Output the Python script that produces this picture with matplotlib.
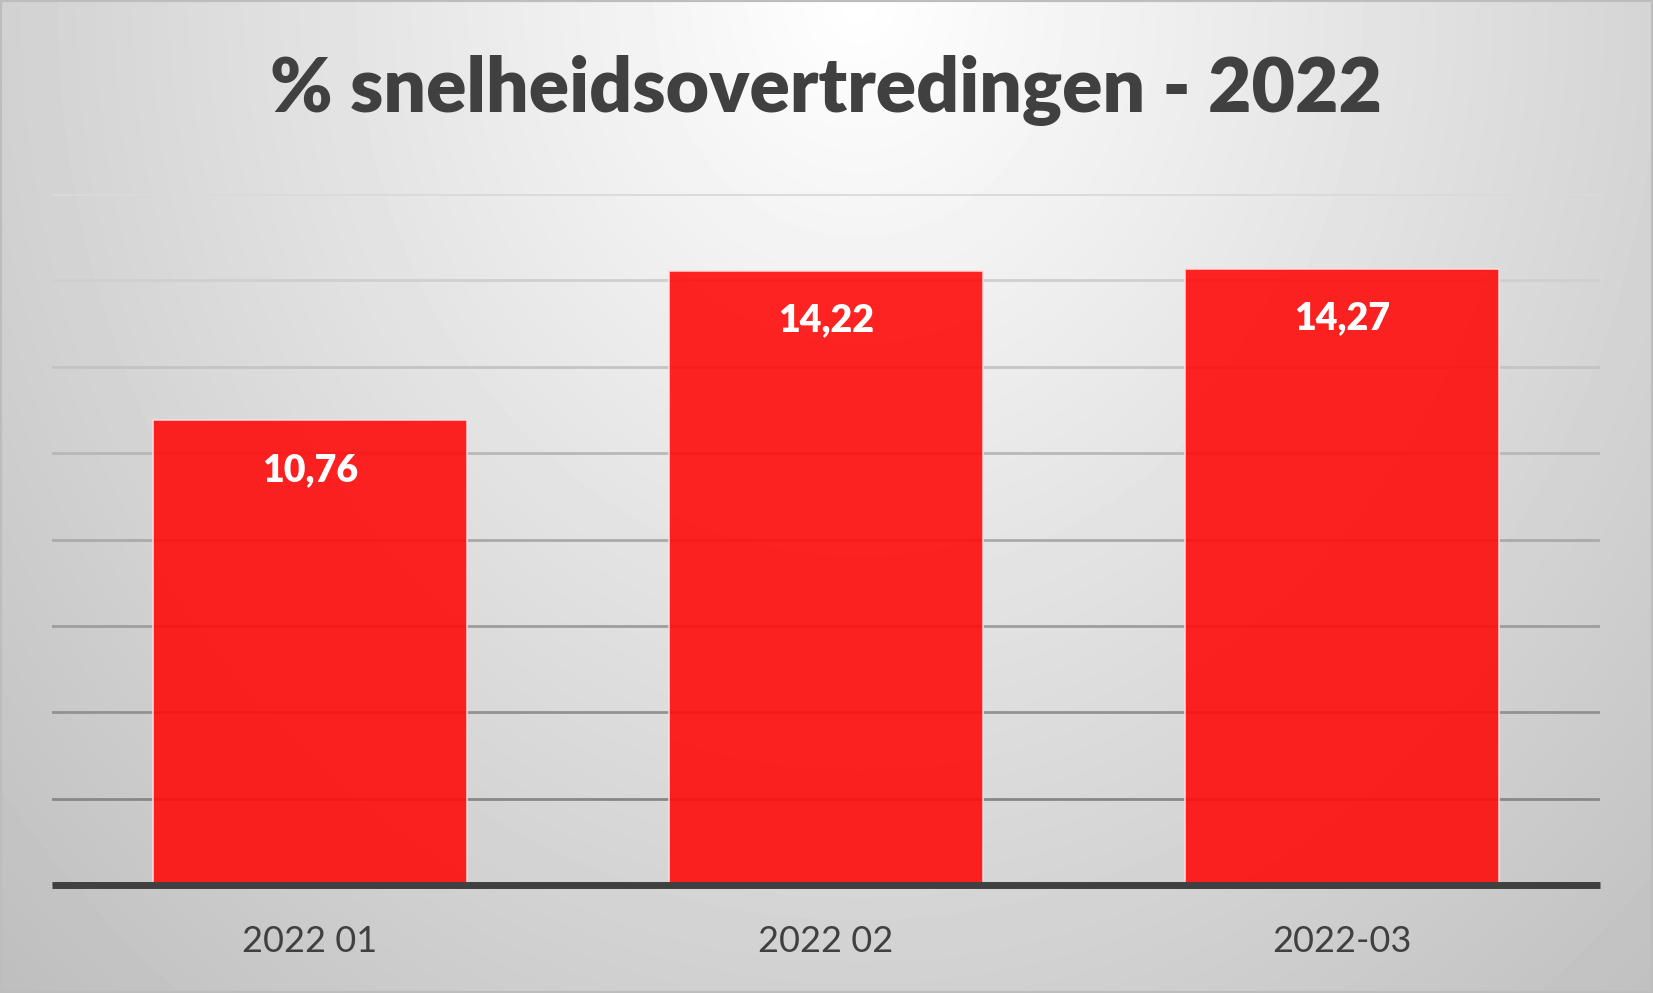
import numpy as np
import matplotlib.pyplot as plt

# Data
maanden = ['2022 01', '2022 02', '2022-03']
percentages = [10.76, 14.22, 14.27]
labels = ['10,76', '14,22', '14,27']
y_ticks = [0, 2, 4, 6, 8, 10, 12, 14, 16]

plt.rcParams['font.family'] = ['Lato', 'DejaVu Sans']

fig = plt.figure(figsize=(16.53, 9.93), dpi=100)

# Achtergrond met radiale verloop
bg = fig.add_axes([0, 0, 1, 1], zorder=-10)
xx, yy = np.meshgrid(np.linspace(0, 1, 400), np.linspace(0, 1, 240))
d = np.sqrt(((xx - 0.52) / 0.55) ** 2 + ((yy - 0.0) / 1.05) ** 2)
grijs = np.clip(1.0 - 0.19 * d, 0.74, 1.0)
bg.imshow(grijs, cmap='gray', vmin=0, vmax=1, aspect='auto',
          extent=[0, 1, 1, 0], interpolation='bilinear')
bg.set_xlim(0, 1)
bg.set_ylim(1, 0)
bg.axis('off')
fig.patches.append(plt.Rectangle((0, 0), 1, 1, transform=fig.transFigure,
                                 fill=False, edgecolor='#bdbdbd', linewidth=3))

ax = fig.add_axes([52 / 1653, (993 - 885) / 993, 1548 / 1653, (885 - 194) / 993])
ax.patch.set_alpha(0)

x = np.arange(len(maanden))
bars = ax.bar(x, percentages, width=0.607, color='#ff0c0c', alpha=0.9,
              edgecolor='#ffdede', linewidth=1.2, zorder=3)

for xi, val, lab in zip(x, percentages, labels):
    ax.text(xi, val - 1.15, lab, ha='center', va='center', color='white',
            fontsize=27, fontweight='heavy', zorder=4)

ax.set_xlim(-0.5, 2.5)
ax.set_ylim(0, 16)
ax.set_yticks(y_ticks)
ax.set_yticklabels([])
ax.tick_params(axis='y', length=0)
ax.set_xticks(x)
ax.set_xticklabels(maanden, fontsize=26, color='#404040')
ax.tick_params(axis='x', length=0, pad=29)

ax.yaxis.grid(True, linewidth=2, zorder=1)
ax.set_axisbelow(True)
grid_kleuren = ['#7f7f7f', '#888888', '#929292', '#9e9e9e', '#aaaaaa',
                '#b8b8b8', '#c4c4c4', '#cfcfcf', '#dadada']
for gl, kleur in zip(ax.get_ygridlines(), grid_kleuren):
    gl.set_color(kleur)

for s in ['top', 'left', 'right']:
    ax.spines[s].set_visible(False)
ax.spines['bottom'].set_color('#404040')
ax.spines['bottom'].set_linewidth(5)
ax.spines['bottom'].set_capstyle('butt')
ax.spines['bottom'].set_zorder(5)

fig.text(0.5, 1 - 90 / 993, '% snelheidsovertredingen - 2022', ha='center', va='center',
         fontsize=54, fontweight='heavy', color='#404040')

fig.savefig('out.png', dpi=100)
